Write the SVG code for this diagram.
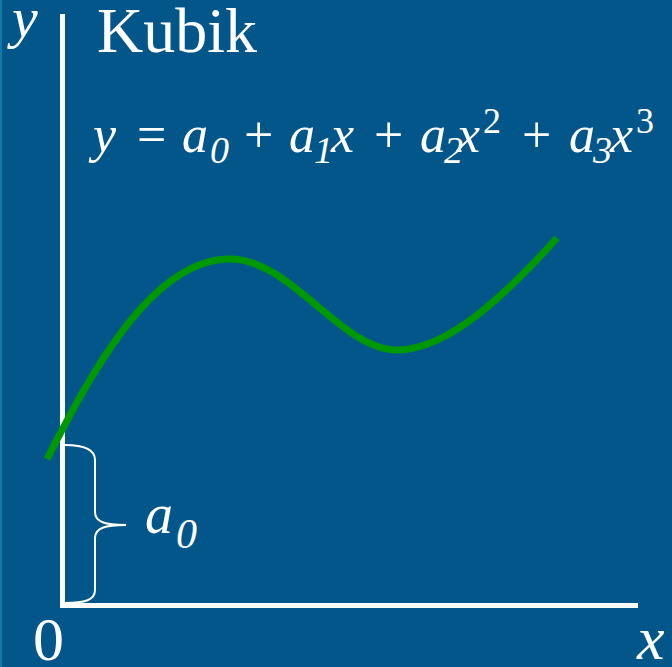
<svg xmlns="http://www.w3.org/2000/svg" width="672" height="667" viewBox="0 0 672 667">
<rect x="0" y="0" width="672" height="667" fill="#03568A"/>
<rect x="0" y="0" width="2" height="667" fill="#1579a6"/>
<g id="connectors">
<path id="axes" stroke="#ffffff" stroke-width="5" fill="none" d="M62.5,14 L62.5,605.5 L638,605.5"/>
<path id="curve" stroke="#009900" stroke-width="7" fill="none" d="M47,459 C90,375 150,262 227,259 C290,256 340,350 397,350 C450,350 510,290 557,238"/>
<path id="brace" stroke="#ffffff" stroke-width="2" fill="none" d="M65,445 C85,445 95,450 95,460 L95,512 C95,522 105,525 126,525 C105,525 95,528 95,538 L95,590 C95,600 85,603 65,603"/>
</g>
<g id="title">
<text x="97" y="52" font-size="64" fill="#fff" font-family="Liberation Serif, serif">Kubik</text>
</g>
<g id="axis-labels">
<text x="12" y="37" font-size="58" fill="#fff" font-family="Liberation Serif, serif" font-style="italic">y</text>
<text x="33" y="660" font-size="62" fill="#fff" font-family="Liberation Serif, serif">0</text>
<text x="637" y="659" font-size="62" fill="#fff" font-family="Liberation Serif, serif" font-style="italic">x</text>
</g>
<g id="a0-label">
<text x="145" y="533" font-size="56" fill="#fff" font-family="Liberation Serif, serif" font-style="italic">a</text>
<text x="176" y="548" font-size="42" fill="#fff" font-family="Liberation Serif, serif" font-style="italic">0</text>
</g>
<g id="formula">
<text x="93" y="152" font-size="52" fill="#fff" font-family="Liberation Serif, serif" font-style="italic">y</text>
<text x="137" y="152" font-size="52" fill="#fff" font-family="Liberation Serif, serif">=</text>
<text x="182" y="152" font-size="52" fill="#fff" font-family="Liberation Serif, serif" font-style="italic">a</text>
<text x="210" y="163" font-size="38" fill="#fff" font-family="Liberation Serif, serif" font-style="italic">0</text>
<text x="244" y="152" font-size="52" fill="#fff" font-family="Liberation Serif, serif">+</text>
<text x="289" y="152" font-size="52" fill="#fff" font-family="Liberation Serif, serif" font-style="italic">a</text>
<text x="314" y="163" font-size="38" fill="#fff" font-family="Liberation Serif, serif" font-style="italic">1</text>
<text x="331" y="152" font-size="52" fill="#fff" font-family="Liberation Serif, serif" font-style="italic">x</text>
<text x="374" y="152" font-size="52" fill="#fff" font-family="Liberation Serif, serif">+</text>
<text x="420" y="152" font-size="52" fill="#fff" font-family="Liberation Serif, serif" font-style="italic">a</text>
<text x="444" y="163" font-size="38" fill="#fff" font-family="Liberation Serif, serif" font-style="italic">2</text>
<text x="457" y="152" font-size="52" fill="#fff" font-family="Liberation Serif, serif" font-style="italic">x</text>
<text x="483" y="133" font-size="36" fill="#fff" font-family="Liberation Serif, serif">2</text>
<text x="522" y="152" font-size="52" fill="#fff" font-family="Liberation Serif, serif">+</text>
<text x="569" y="152" font-size="52" fill="#fff" font-family="Liberation Serif, serif" font-style="italic">a</text>
<text x="593" y="163" font-size="38" fill="#fff" font-family="Liberation Serif, serif" font-style="italic">3</text>
<text x="610" y="152" font-size="52" fill="#fff" font-family="Liberation Serif, serif" font-style="italic">x</text>
<text x="636" y="133" font-size="36" fill="#fff" font-family="Liberation Serif, serif">3</text>
</g>
</svg>
